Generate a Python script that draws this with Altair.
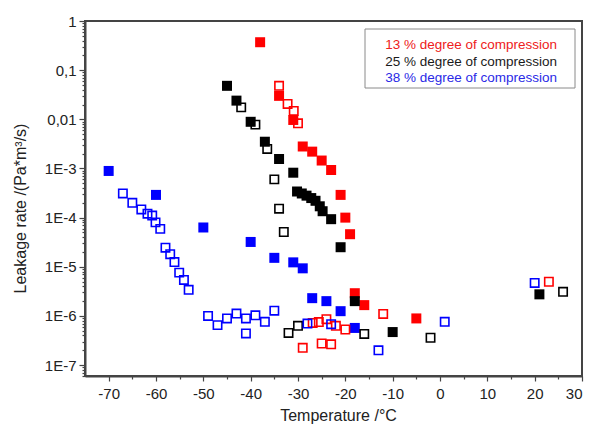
import altair as alt
import pandas as pd

# ---- data ----
series_names = ["13 % degree of compression", "25 % degree of compression", "38 % degree of compression"]

red_filled_x = [-38, -34, -31, -29, -27, -25, -23, -21, -20, -19, -18, -16, -5]
red_filled_y = [0.37, 0.03, 0.0097, 2.8e-3, 2.2e-3, 1.45e-3, 9.3e-4, 2.9e-4, 1.0e-4, 4.6e-5, 2.9e-6, 1.66e-6, 8.9e-7]

red_open_x = [-34, -32.2, -30.9, -30, -26.9, -25.6, -24, -22, -20, -12, 23, -29, -25, -23]
red_open_y = [0.048, 0.0205, 0.0148, 0.0083, 7.2e-7, 7.5e-7, 8.6e-7, 6.3e-7, 5.3e-7, 1.1e-6, 4.96e-6, 2.25e-7, 2.75e-7, 2.65e-7]

black_filled_x = [-45, -43, -40, -37, -34, -31, -30.2, -29.2, -28.2, -27.2, -26.3, -25.4, -24.8, -23, -21, -18, -10, 21]
black_filled_y = [0.048, 0.024, 0.0089, 3.5e-3, 1.56e-3, 8.2e-4, 3.4e-4, 3.1e-4, 2.8e-4, 2.5e-4, 2.2e-4, 1.7e-4, 1.35e-4, 9.3e-5, 2.5e-5, 2.0e-6, 4.7e-7, 2.75e-6]

black_open_x = [-42, -39, -36.5, -35, -34, -33, -32, -30, -16, -2, 26]
black_open_y = [0.0175, 0.0078, 2.5e-3, 6e-4, 1.52e-4, 5.1e-5, 4.5e-7, 6.3e-7, 4.3e-7, 3.6e-7, 3.1e-6]

blue_filled_x = [-70, -60, -50, -40, -35, -31, -29, -27, -24, -21, -18]
blue_filled_y = [8.9e-4, 2.9e-4, 6.3e-5, 3.2e-5, 1.52e-5, 1.23e-5, 9.3e-6, 2.3e-6, 2.0e-6, 1.25e-6, 5.7e-7]

blue_open_x = [-67, -65, -63.1, -61.8, -60.8, -60.1, -59.1, -58, -57, -56.1, -55.1, -54.1, -53.1,
               -49, -47, -45, -43, -41, -41, -39, -37, -35, -28, -23, -13, 1, 20]
blue_open_y = [3.1e-4, 2.0e-4, 1.47e-4, 1.2e-4, 1.1e-4, 8.0e-5, 5.9e-5, 2.45e-5, 1.8e-5, 1.25e-5, 7.6e-6, 5.4e-6, 3.4e-6,
               1.0e-6, 6.5e-7, 8.9e-7, 1.12e-6, 8.9e-7, 4.4e-7, 1.03e-6, 7.6e-7, 1.28e-6, 7.0e-7, 6.8e-7, 2.0e-7, 7.6e-7, 4.7e-6]

y_decade_labels = ["1E-7", "1E-6", "1E-5", "1E-4", "1E-3", "0,01", "0,1", "1"]
x_tick_values = list(range(-70, 31, 5))

mark_colors = ["#ff0000", "#000000", "#0000ff"]
legend_colors = ["#ee2020", "#1a1a1a", "#2a2ae6"]


def frame(xs, ys, name):
    return pd.DataFrame({"t": xs, "rate": ys, "series": name})


filled_df = pd.concat([
    frame(red_filled_x, red_filled_y, series_names[0]),
    frame(black_filled_x, black_filled_y, series_names[1]),
    frame(blue_filled_x, blue_filled_y, series_names[2]),
])
open_df = pd.concat([
    frame(red_open_x, red_open_y, series_names[0]),
    frame(black_open_x, black_open_y, series_names[1]),
    frame(blue_open_x, blue_open_y, series_names[2]),
])

# minor/major tick positions for the log axis
y_tick_values = []
for k in range(-8, 1):
    for m in range(1, 10):
        v = float(f"{m}e{k}")
        if 6e-8 <= v <= 1.0:
            y_tick_values.append(v)

FONT = "Liberation Sans"
lg = "log(datum.value)/LN10"
major_y = f"abs({lg} - round({lg})) < 0.001"
label_arr = "[" + ",".join(f"'{s}'" for s in y_decade_labels) + "]"

x_enc = alt.X(
    "t:Q",
    scale=alt.Scale(domain=[-75, 30], nice=False, zero=False),
    axis=alt.Axis(
        title="Temperature /°C",
        values=x_tick_values,
        labelExpr="datum.value % 10 == 0 ? '' + datum.value : ''",
        tickSize={"condition": {"test": "datum.value % 10 == 0", "value": 5}, "value": 3},
        labelOverlap=False,
        labelPadding=5,
        titleX=253,
        titleY=39,
        titleBaseline="middle",
    ),
)
y_enc = alt.Y(
    "rate:Q",
    scale=alt.Scale(type="log", domain=[6e-8, 1], nice=False),
    axis=alt.Axis(
        title="Leakage rate /(Pa*m³/s)",
        values=y_tick_values,
        labelExpr=f"{major_y} ? {label_arr}[round({lg}) + 7] : ''",
        tickSize={"condition": {"test": major_y, "value": 6}, "value": 3},
        labelOverlap=False,
        labelPadding=3,
        titleX=-65,
        titleY=187,
        titleBaseline="middle",
    ),
)
color_enc = alt.Color(
    "series:N",
    scale=alt.Scale(domain=series_names, range=mark_colors),
    legend=None,
)

filled = alt.Chart(filled_df).mark_square(filled=True, size=100, opacity=1).encode(
    x=x_enc, y=y_enc, color=color_enc
)
hollow = alt.Chart(open_df).mark_square(filled=False, size=70, strokeWidth=1.6, opacity=1).encode(
    x=x_enc, y=y_enc, color=color_enc
)

box = alt.Chart(pd.DataFrame({"k": [0]})).mark_rect(
    fill="white", stroke="#8a8a8a", strokeWidth=1
).encode(x=alt.value(280), x2=alt.value(490), y=alt.value(8), y2=alt.value(67))

texts = []
for i, (name, col) in enumerate(zip(series_names, legend_colors)):
    texts.append(
        alt.Chart(pd.DataFrame({"label": [name]})).mark_text(
            align="right", baseline="middle", font=FONT, fontSize=13.5, color=col
        ).encode(x=alt.value(472), y=alt.value(24 + 16.5 * i), text="label:N")
    )

chart = alt.layer(filled, hollow, box, *texts).properties(
    width=497,
    height=355,
    autosize=alt.AutoSizeParams(type="none"),
    padding={"left": 77, "top": 13, "right": 2, "bottom": 48},
).configure_axis(
    grid=False,
    domainColor="#444444",
    domainWidth=2,
    tickColor="#444444",
    tickWidth=1.2,
    labelFont=FONT,
    labelFontSize=15,
    labelColor="#222222",
    titleFont=FONT,
    titleFontSize=16,
    titleFontWeight="normal",
    titleColor="#222222",
).configure_view(stroke="#444444", strokeWidth=2)

chart.save("out.html", embed_options={"renderer": "svg", "actions": False})
